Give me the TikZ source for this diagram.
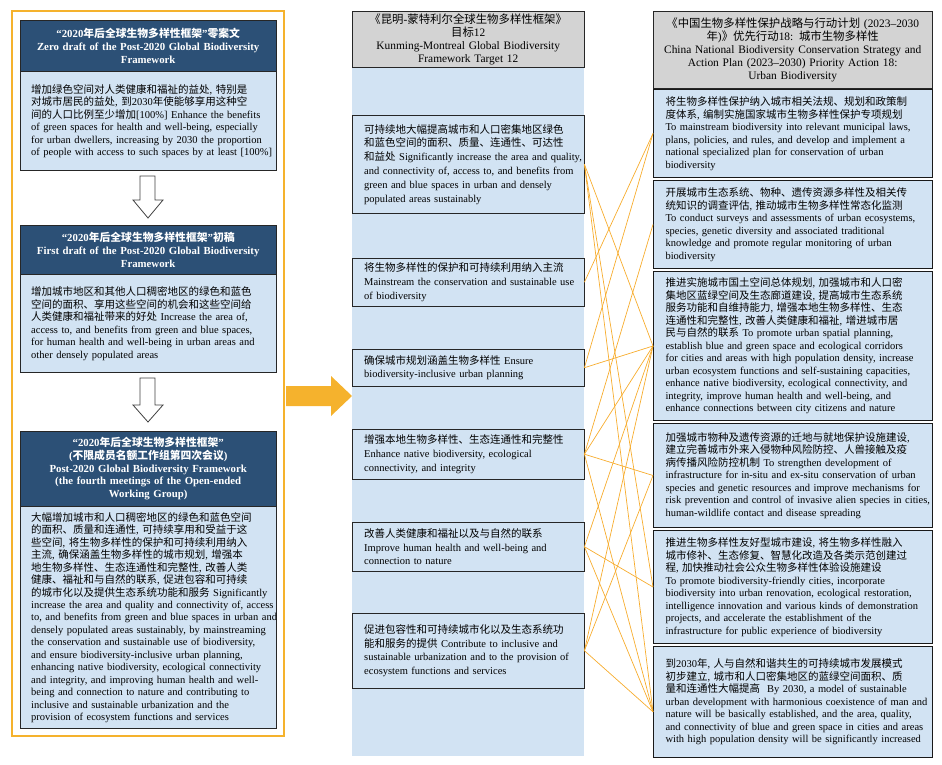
\documentclass[tikz,border=0pt]{standalone}
\usepackage{fontspec}
\setmainfont{Liberation Serif}
\newfontfamily\cjkfont{Noto Sans CJK SC}
\usetikzlibrary{positioning}
\definecolor{hdrblue}{RGB}{44,80,118}
\definecolor{boxblue}{RGB}{210,227,243}
\definecolor{hdrgray}{RGB}{211,211,211}
\definecolor{linkorange}{RGB}{247,172,45}
\definecolor{frameorange}{RGB}{245,178,45}

\XeTeXinterchartokenstate=1
\newcount\cjkcode
\def\setcharclass#1#2#3{\cjkcode=#1\relax
  \loop\XeTeXcharclass\cjkcode=#3\relax\advance\cjkcode by 1\relax
  \ifnum\cjkcode<#2\relax\repeat}
\setcharclass{"0021}{"0250}{0}
\setcharclass{"2000}{"2070}{0}
\setcharclass{"3000}{"3040}{7}
\setcharclass{"4E00}{"A000}{7}
\setcharclass{"FF00}{"FFF0}{7}
\XeTeXinterchartoks 0 7 = {\cjkfont}
\XeTeXinterchartoks 4095 7 = {\cjkfont}
\XeTeXinterchartoks 7 0 = {\rmfamily}
\XeTeXinterchartoks 7 4095 = {\rmfamily}

\begin{document}
\begin{tikzpicture}[x=1pt, y=-1pt,
  nowrap/.style={execute at begin node={\rightskip=0pt plus 1fil minus 60pt\relax}},
  headbox/.style={draw=black!85, fill=hdrblue, text=white, font=\fontsize{10.8}{12.7}\selectfont\bfseries,
    align=center, inner sep=0pt, text width=256pt, minimum height=#1, anchor=north west},
  leftbody/.style={draw=black!85, fill=boxblue, font=\fontsize{10.5}{12.45}\selectfont, align=left,
    inner xsep=11pt, inner ysep=0pt, text width=234pt, minimum height=#1, nowrap},
  grayhead/.style={draw=black!85, fill=hdrgray, font=\fontsize{11.4}{13}\selectfont, align=center,
    inner sep=0pt, anchor=north west},
  tgtbox/.style={draw=black!85, fill=boxblue, font=\fontsize{10.5}{13.8}\selectfont, align=left,
    inner xsep=12pt, inner ysep=0pt, text width=208pt, minimum height=#1, anchor=north west, nowrap},
  actbox/.style={draw=black!90, line width=1pt, fill=boxblue, font=\fontsize{10.5}{12.5}\selectfont, align=left,
    inner xsep=12pt, inner ysep=0pt, text width=255pt, minimum height=#1, nowrap},
  hollowarrow/.style={draw=black!75, fill=white, line width=0.8pt},
  link/.style={draw=linkorange, line width=0.7pt}]

\useasboundingbox (0,0) rectangle (942,765);

\draw[frameorange, line width=1.3pt] (12,11) rectangle (284,736);

\node[headbox=51] (zeroHead) at (20,20) {“2020年后全球生物多样性框架”零案文\\
Zero draft of the Post-2020 Global Biodiversity\\
Framework};
\node[leftbody=99, below=0pt of zeroHead] (zeroBody) {增加绿色空间对人类健康和福祉的益处, 特别是\\
对城市居民的益处, 到2030年使能够享用这种空\\
间的人口比例至少增加[100\%] Enhance the benefits\\
of green spaces for health and well-being, especially\\
for urban dwellers, increasing by 2030 the proportion\\
of people with access to such spaces by at least [100\%]};

\draw[hollowarrow] (140,176) -- (155,176) -- (155,200) -- (163,200) -- (148,218) -- (133,200) -- (140,200) -- cycle;

\node[headbox=49] (firstHead) at (20,225) {“2020年后全球生物多样性框架”初稿\\
First draft of the Post-2020 Global Biodiversity\\
Framework};
\node[leftbody=98, below=0pt of firstHead] (firstBody) {增加城市地区和其他人口稠密地区的绿色和蓝色\\
空间的面积、享用这些空间的机会和这些空间给\\
人类健康和福祉带来的好处 Increase the area of,\\
access to, and benefits from green and blue spaces,\\
for human health and well-being in urban areas and\\
other densely populated areas};

\draw[hollowarrow] (140,378) -- (155,378) -- (155,405) -- (163,405) -- (148,422) -- (133,405) -- (140,405) -- cycle;

\node[headbox=75] (owgHead) at (20,431) {“2020年后全球生物多样性框架”\\
(不限成员名额工作组第四次会议)\\
Post-2020 Global Biodiversity Framework\\
(the fourth meetings of the Open-ended\\
Working Group)};
\node[leftbody=222, below=0pt of owgHead] (owgBody) {大幅增加城市和人口稠密地区的绿色和蓝色空间\\
的面积、质量和连通性, 可持续享用和受益于这\\
些空间, 将生物多样性的保护和可持续利用纳入\\
主流, 确保涵盖生物多样性的城市规划, 增强本\\
地生物多样性、生态连通性和完整性, 改善人类\\
健康、福祉和与自然的联系, 促进包容和可持续\\
的城市化以及提供生态系统功能和服务 Significantly\\
increase the area and quality and connectivity of, access\\
to, and benefits from green and blue spaces in urban and\\
densely populated areas sustainably, by mainstreaming\\
the conservation and sustainable use of biodiversity,\\
and ensure biodiversity-inclusive urban planning,\\
enhancing native biodiversity, ecological connectivity\\
and integrity, and improving human health and well-\\
being and connection to nature and contributing to\\
inclusive and sustainable urbanization and the\\
provision of ecosystem functions and services};

\fill[frameorange] (286,386) -- (331,386) -- (331,376) -- (352,396) -- (331,416) -- (331,406) -- (286,406) -- cycle;

\fill[boxblue] (352,67) rectangle (584,756);
\node[grayhead, text width=232pt, minimum height=56pt] (tgtHead) at (352,11) {《昆明-蒙特利尔全球生物多样性框架》\\
目标12\\
Kunming-Montreal Global Biodiversity\\
Framework Target 12};

\node[tgtbox=98] (tgt1) at (352,115) {可持续地大幅提高城市和人口密集地区绿色\\
和蓝色空间的面积、质量、连通性、可达性\\
和益处 Significantly increase the area and quality,\\
and connectivity of, access to, and benefits from\\
green and blue spaces in urban and densely\\
populated areas sustainably};
\node[tgtbox=48] (tgt2) at (352,258) {将生物多样性的保护和可持续利用纳入主流\\
Mainstream the conservation and sustainable use\\
of biodiversity};
\node[tgtbox=37] (tgt3) at (352,349) {确保城市规划涵盖生物多样性 Ensure\\
biodiversity-inclusive urban planning};
\node[tgtbox=50] (tgt4) at (352,429) {增强本地生物多样性、生态连通性和完整性\\
Enhance native biodiversity, ecological\\
connectivity, and integrity};
\node[tgtbox=49] (tgt5) at (352,522) {改善人类健康和福祉以及与自然的联系\\
Improve human health and well-being and\\
connection to nature};
\node[tgtbox=75] (tgt6) at (352,613) {促进包容性和可持续城市化以及生态系统功\\
能和服务的提供 Contribute to inclusive and\\
sustainable urbanization and to the provision of\\
ecosystem functions and services};

\node[grayhead, text width=279pt, minimum height=77pt] (actHead) at (653,11) {《中国生物多样性保护战略与行动计划 (2023–2030\\
年)》优先行动18: 城市生物多样性\\
China National Biodiversity Conservation Strategy and\\
Action Plan (2023–2030) Priority Action 18:\\
Urban Biodiversity};

\node[actbox=88, anchor=north west] (act1) at (653,89) {将生物多样性保护纳入城市相关法规、规划和政策制\\
度体系, 编制实施国家城市生物多样性保护专项规划\\
To mainstream biodiversity into relevant municipal laws,\\
plans, policies, and rules, and develop and implement a\\
national specialized plan for conservation of urban\\
biodiversity};
\node[actbox=88, below=2pt of act1] (act2) {开展城市生态系统、物种、遗传资源多样性及相关传\\
统知识的调查评估, 推动城市生物多样性常态化监测\\
To conduct surveys and assessments of urban ecosystems,\\
species, genetic diversity and associated traditional\\
knowledge and promote regular monitoring of urban\\
biodiversity};
\node[actbox=149, below=2pt of act2] (act3) {推进实施城市国土空间总体规划, 加强城市和人口密\\
集地区蓝绿空间及生态廊道建设, 提高城市生态系统\\
服务功能和自维持能力, 增强本地生物多样性、生态\\
连通性和完整性, 改善人类健康和福祉, 增进城市居\\
民与自然的联系 To promote urban spatial planning,\\
establish blue and green space and ecological corridors\\
for cities and areas with high population density, increase\\
urban ecosystem functions and self-sustaining capacities,\\
enhance native biodiversity, ecological connectivity, and\\
integrity, improve human health and well-being, and\\
enhance connections between city citizens and nature};
\node[actbox=104, below=2pt of act3] (act4) {加强城市物种及遗传资源的迁地与就地保护设施建设,\\
建立完善城市外来入侵物种风险防控、人兽接触及疫\\
病传播风险防控机制 To strengthen development of\\
infrastructure for in-situ and ex-situ conservation of urban\\
species and genetic resources and improve mechanisms for\\
risk prevention and control of invasive alien species in cities,\\
human-wildlife contact and disease spreading};
\node[actbox=113, below=2pt of act4] (act5) {推进生物多样性友好型城市建设, 将生物多样性融入\\
城市修补、生态修复、智慧化改造及各类示范创建过\\
程, 加快推动社会公众生物多样性体验设施建设\\
To promote biodiversity-friendly cities, incorporate\\
biodiversity into urban renovation, ecological restoration,\\
intelligence innovation and various kinds of demonstration\\
projects, and accelerate the establishment of the\\
infrastructure for public experience of biodiversity};
\node[actbox=111, below=2pt of act5] (act6) {到2030年, 人与自然和谐共生的可持续城市发展模式\\
初步建立, 城市和人口密集地区的蓝绿空间面积、质\\
量和连通性大幅提高 \ By 2030, a model of sustainable\\
urban development with harmonious coexistence of man and\\
nature will be basically established, and the area, quality,\\
and connectivity of blue and green space in cities and areas\\
with high population density will be significantly increased};

\foreach \a/\b in {1/act3.west,1/act5.west,1/act6.184,2/act1.west,3/act1.west,3/act3.west,4/act2.west,4/act3.west,
  4/act4.west,4/act6.184,5/act3.west,5/act5.west,5/act6.184,6/act3.west,6/act4.west,6/act6.184}
  \draw[link] (tgt\a.east) -- (\b);
\end{tikzpicture}
\end{document}
